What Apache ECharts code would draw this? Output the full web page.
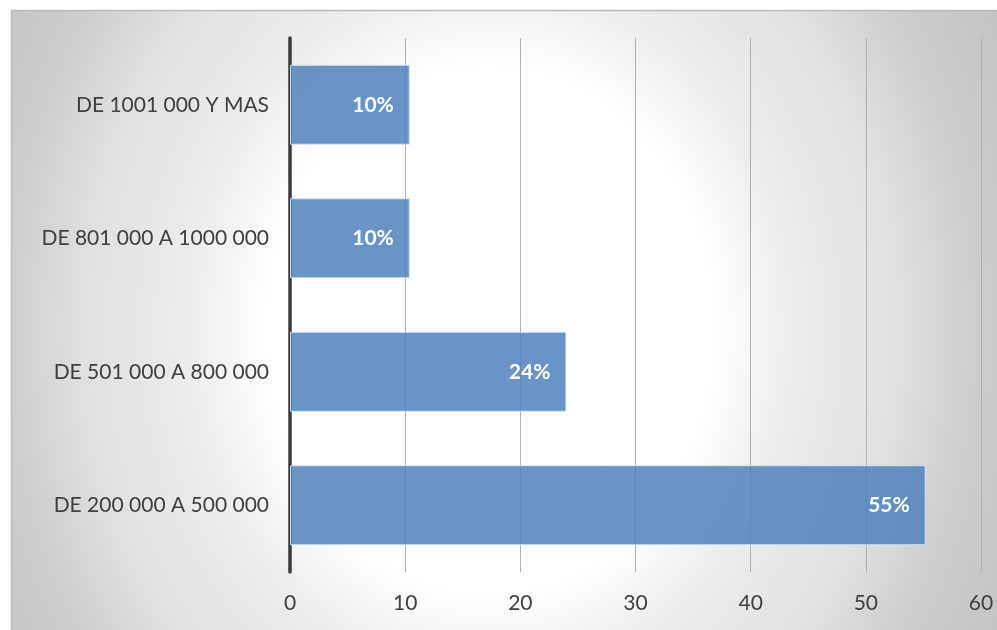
<!DOCTYPE html>
<html>
<head>
<meta charset="utf-8">
<script src="https://cdn.jsdelivr.net/npm/echarts@6/dist/echarts.min.js"></script>
<style>
  html, body { margin: 0; padding: 0; background: #ffffff; }
  #chart { width: 997px; height: 630px; }
</style>
</head>
<body>
<div id="chart"></div>
<script>
// Income brackets (bottom to top on the category axis)
const categories = [
  'DE 200 000 A 500 000',
  'DE 501 000 A 800 000',
  'DE 801 000 A 1000 000',
  'DE 1001 000 Y MAS'
];
// Share of respondents in each bracket, percent
const shares = [55.2, 24.0, 10.4, 10.4];
// Value axis ticks
const axisMin = 0;
const axisMax = 60;
const axisStep = 10;

const chart = echarts.init(document.getElementById('chart'), null, { renderer: 'canvas' });

const textColor = '#404040';
const fontFamily = 'Lato, "Open Sans", sans-serif';

// Panel behind the plot: elliptical white glow fading to grey towards the sides.
const panel = { left: 11, top: 10, right: 997, bottom: 630 };
const glow = { cx: 490, cy: 330, sx: 0.85, r: 673 };

chart.setOption({
  animation: false,
  backgroundColor: '#ffffff',
  graphic: [{
    type: 'rect',
    z: -100,
    silent: true,
    x: glow.cx,
    y: glow.cy,
    scaleX: glow.sx,
    shape: {
      x: (panel.left - glow.cx) / glow.sx,
      y: panel.top - glow.cy,
      width: (panel.right - panel.left) / glow.sx,
      height: panel.bottom - panel.top
    },
    style: {
      fill: new echarts.graphic.RadialGradient(0, 0, glow.r, [
        { offset: 0, color: '#ffffff' },
        { offset: 0.385, color: '#ffffff' },
        { offset: 0.52, color: '#eeeeee' },
        { offset: 0.71, color: '#e0e0e0' },
        { offset: 0.85, color: '#cdcdcd' },
        { offset: 1, color: '#c4c4c4' }
      ], true)
    }
  }, {
    type: 'polyline',
    z: -99,
    silent: true,
    shape: {
      points: [[panel.left + 0.5, panel.bottom], [panel.left + 0.5, panel.top + 0.5], [panel.right, panel.top + 0.5]]
    },
    style: { fill: null, stroke: '#bdbdbd', lineWidth: 1.5 }
  }],
  grid: {
    left: 290,
    right: 16,
    top: 38,
    bottom: 58,
    containLabel: false
  },
  xAxis: {
    type: 'value',
    min: axisMin,
    max: axisMax,
    interval: axisStep,
    axisLine: { show: false },
    axisTick: { show: false },
    splitLine: { show: true, lineStyle: { color: '#b0b0b0', width: 1 } },
    axisLabel: {
      color: textColor,
      fontFamily: fontFamily,
      fontSize: 21,
      margin: 21
    }
  },
  yAxis: {
    type: 'category',
    data: categories,
    axisLine: { show: true, lineStyle: { color: '#3a3a3a', width: 3.5 } },
    axisTick: { show: false },
    splitLine: { show: false },
    axisLabel: {
      color: textColor,
      fontFamily: fontFamily,
      fontSize: 21,
      margin: 21
    }
  },
  series: [{
    type: 'bar',
    data: shares,
    barWidth: 80,
    itemStyle: {
      color: 'rgba(79,129,189,0.85)',
      borderColor: 'rgba(220,232,246,0.9)',
      borderWidth: 1
    },
    label: {
      show: true,
      position: 'insideRight',
      distance: 16,
      color: '#ffffff',
      fontFamily: fontFamily,
      fontWeight: 'bold',
      fontSize: 21,
      formatter: p => Math.round(p.value) + '%'
    }
  }]
});
</script>
</body>
</html>
